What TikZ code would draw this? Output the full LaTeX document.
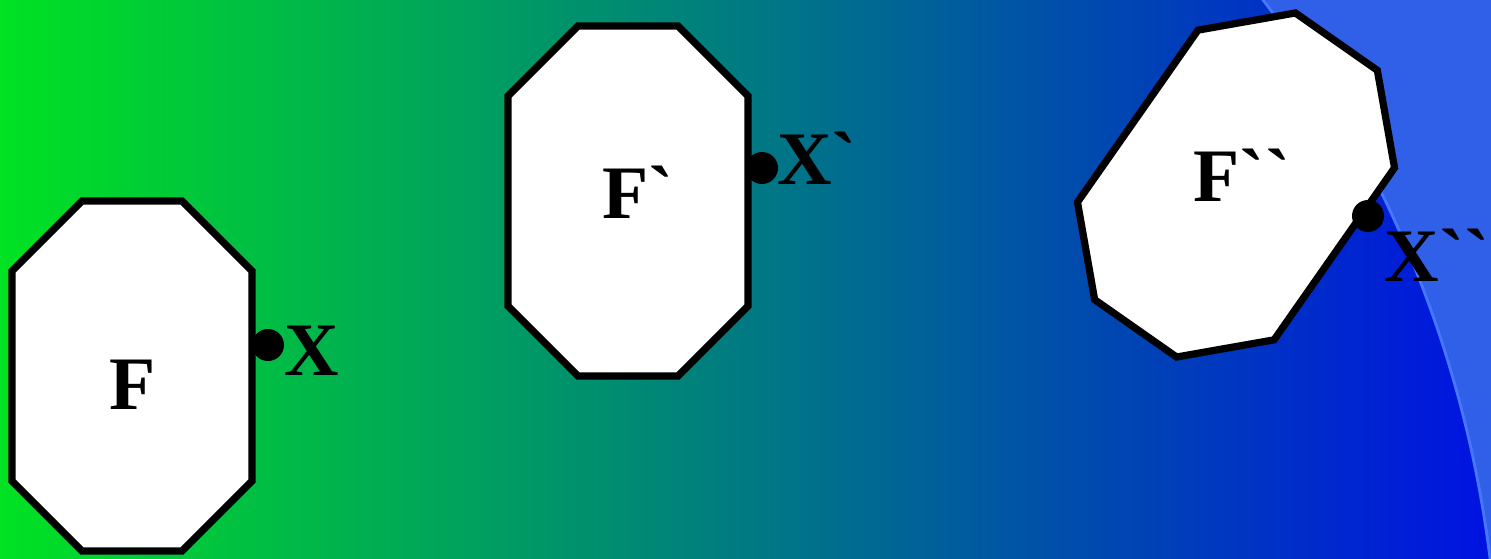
\documentclass[tikz,border=0pt]{standalone}
\usepackage{fontspec}
\setmainfont{Liberation Serif}[Ligatures=TeXOff]
\usepackage{xcolor}
\usepackage{tikz}
\usetikzlibrary{positioning}

\definecolor{bgleft}{RGB}{0,226,34}
\definecolor{bgright}{RGB}{0,18,226}
\definecolor{arcfill}{RGB}{48,96,232}
\definecolor{arcedge}{RGB}{70,120,255}

\newcommand{\gr}{\symbol{96}}

\begin{document}
\begin{tikzpicture}[
    x=0.02cm, y=0.02cm,
    octline/.style={draw=black, fill=white, line width=4.1pt, miter limit=10},
    lbl/.style={inner sep=0pt, font=\fontsize{43}{50}\selectfont\bfseries},
    dot/.style={circle, fill=black, inner sep=0pt, minimum size=0.64cm},
    octbox/.pic={\path[octline] (-50,175) -- (50,175) -- (120,105) -- (120,-105) -- (50,-175) -- (-50,-175) -- (-120,-105) -- (-120,105) -- cycle;}
]
\useasboundingbox (0,0) rectangle (1491,558);
\shade[left color=bgleft, right color=bgright] (0,0) rectangle (1491,558);
\begin{scope}
\clip (0,0) rectangle (1491,558);
\fill[arcfill, even odd rule] (331,-146) circle (1168) (-100,-100) rectangle (1600,700);
\draw[arcedge, line width=1.6pt] (331,-146) circle (1168);
\end{scope}
\pic at (132,182) {octbox};
\pic at (628,357) {octbox};
\pic[rotate=-35] at (1236,373) {octbox};
\node[lbl] (fA) at (133,173) {F};
\node[lbl] (fB) at (638,366) {F\gr};
\node[lbl] (fC) at (1242,383) {F\gr\gr};
\node[dot] (dotA) at (268,213) {};
\node[dot] (dotB) at (762,390) {};
\node[dot] (dotC) at (1368,342) {};
\node[lbl] (xA) at (312,207) {X};
\node[lbl] (xB) at (817,400) {X\gr};
\node[lbl] (xC) at (1437,303) {X\gr\gr};
\end{tikzpicture}
\end{document}
